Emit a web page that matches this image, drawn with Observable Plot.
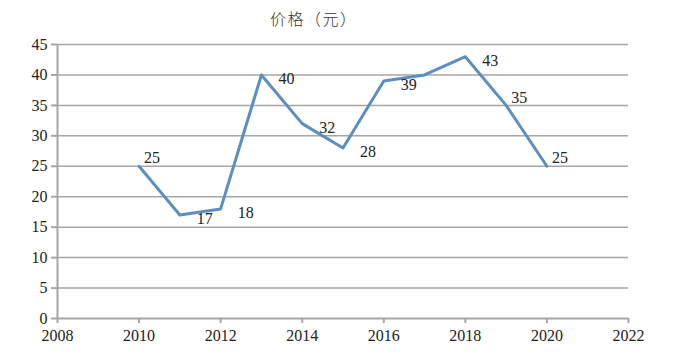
<!DOCTYPE html>
<html>
<head>
<meta charset="utf-8">
<script src="https://cdn.jsdelivr.net/npm/d3@7"></script>
<script src="https://cdn.jsdelivr.net/npm/@observablehq/plot@0.6"></script>
<style>
  html, body { margin: 0; padding: 0; background: #fff; }
  #wrap { position: relative; width: 698px; height: 355px; }
  #title { position: absolute; left: 270px; top: 6px; font-family: "Noto Sans CJK SC", sans-serif; font-weight: 300; font-size: 16px; letter-spacing: 1.5px; color: #333; white-space: nowrap; }
</style>
</head>
<body>
<div id="wrap"><div id="title">价格（元）</div></div>
<script>
const years = [2010, 2011, 2012, 2013, 2014, 2015, 2016, 2017, 2018, 2019, 2020];
const prices = [25, 17, 18, 40, 32, 28, 39, 40, 43, 35, 25];
const labels = ["25", "17", "18", "40", "32", "28", "39", "", "43", "35", "25"];
const xTicks = [2008, 2010, 2012, 2014, 2016, 2018, 2020, 2022];
const yTicks = [0, 5, 10, 15, 20, 25, 30, 35, 40, 45];

const data = years.map((y, i) => ({year: y, price: prices[i], label: labels[i]}));
const upYears = new Set([2010, 2019, 2020]);
const serif = "'Liberation Serif', 'Times New Roman', 'DejaVu Serif', serif";

const chart = Plot.plot({
  width: 698,
  height: 355,
  marginLeft: 57,
  marginRight: 70,
  marginTop: 44,
  marginBottom: 37,
  style: {fontSize: "16px", color: "#222", background: "#fff"},
  x: {domain: [2008, 2022], ticks: xTicks, tickFormat: d => String(d), label: null},
  y: {domain: [0, 45], ticks: yTicks, label: null},
  marks: [
    Plot.ruleY(yTicks.filter(d => d > 0), {stroke: "#a6a6a6", strokeWidth: 1.5}),
    Plot.ruleX([2008], {stroke: "#a6a6a6", strokeWidth: 2}),
    Plot.ruleY([0], {stroke: "#a6a6a6", strokeWidth: 2}),
    Plot.axisX({ticks: xTicks, tickFormat: d => String(d), tickSize: 5, tickPadding: 6, stroke: "#a6a6a6", strokeWidth: 2, fill: "#222", fontSize: 16}),
    Plot.axisY({ticks: yTicks, tickSize: 6, tickPadding: 4, stroke: "#a6a6a6", strokeWidth: 2, fill: "#222", fontSize: 16}),
    Plot.line(data, {x: "year", y: "price", stroke: "#5b8fc0", strokeWidth: 3}),
    Plot.text(data.filter(d => d.label && !upYears.has(d.year)), {x: "year", y: "price", text: "label", textAnchor: "start", dx: 17, dy: 4, fill: "#222", fontSize: 16}),
    Plot.text(data.filter(d => d.label && upYears.has(d.year)), {x: "year", y: "price", text: "label", textAnchor: "start", dx: 5, dy: -8, fill: "#222", fontSize: 16})
  ]
});
chart.style.fontFamily = serif;
chart.querySelectorAll("g, text").forEach(el => { el.style.fontFamily = serif; el.setAttribute("font-family", serif); });
document.getElementById("wrap").appendChild(chart);
</script>
</body>
</html>
